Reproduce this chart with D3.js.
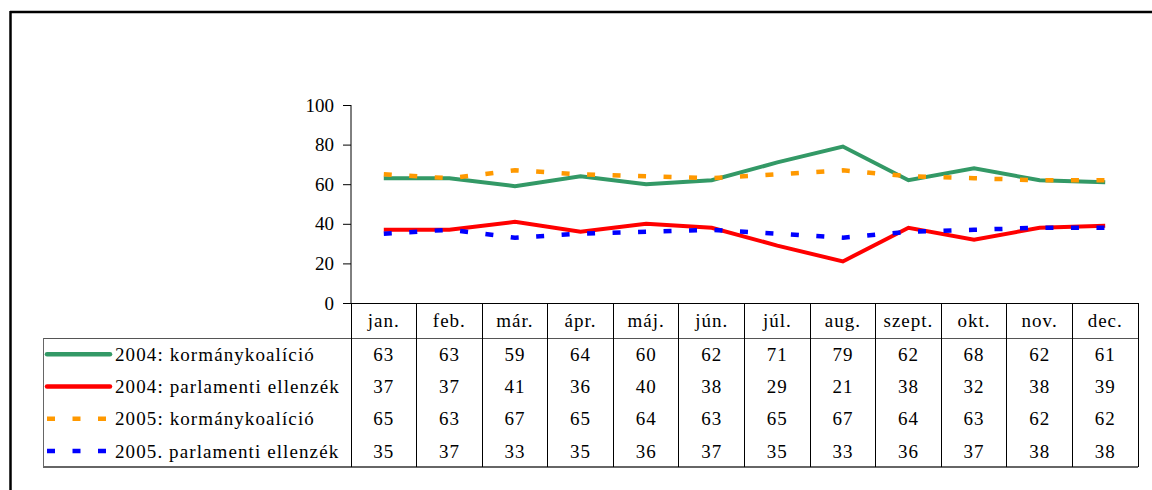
<html>
<script src="https://cdnjs.cloudflare.com/ajax/libs/d3/7.8.5/d3.min.js"></script>
<body style="margin:0; background:#fff">
<svg width="1152" height="490"></svg>
<script>
// data
var months = ["jan.", "feb.", "már.", "ápr.", "máj.", "jún.", "júl.", "aug.", "szept.", "okt.", "nov.", "dec."];
var seriesNames = ["2004: kormánykoalíció", "2004: parlamenti ellenzék", "2005: kormánykoalíció", "2005. parlamenti ellenzék"];
var koal2004 = [63, 63, 59, 64, 60, 62, 71, 79, 62, 68, 62, 61];
var ellenz2004 = [37, 37, 41, 36, 40, 38, 29, 21, 38, 32, 38, 39];
var koal2005 = [65, 63, 67, 65, 64, 63, 65, 67, 64, 63, 62, 62];
var ellenz2005 = [35, 37, 33, 35, 36, 37, 35, 33, 36, 37, 38, 38];
var yTicks = [0, 20, 40, 60, 80, 100];

var seriesValues = [koal2004, ellenz2004, koal2005, ellenz2005];
var colors = ["#339966", "#ff0000", "#ff9900", "#0000ff"];
var dashes = [null, null, "8,17.5", "8,17.5"];

var width = 1152, height = 490;
var plotLeft = 351, plotRight = 1138, plotTop = 105, plotBottom = 303;
var headerH = 35, rowH = 32.25, legendLeft = 43;
var font = "'Liberation Serif', 'Times New Roman', serif";

var svg = d3.select("svg").attr("viewBox", [0, 0, width, height])
	.style("font-family", font);

// outer frame (only top and left edges visible)
svg.append("line").attr("x1", 10).attr("x2", width).attr("y1", 12).attr("y2", 12)
	.attr("stroke", "#000").attr("stroke-width", 2.5);
svg.append("line").attr("x1", 10.5).attr("x2", 10.5).attr("y1", 11).attr("y2", height)
	.attr("stroke", "#000").attr("stroke-width", 2.5);

var x = d3.scaleBand().domain(months).range([plotLeft, plotRight]);
var y = d3.scaleLinear().domain([0, 100]).range([plotBottom, plotTop]);

// y axis
var yAxis = svg.append("g")
	.attr("transform", "translate(" + plotLeft + ",0)")
	.call(d3.axisLeft(y).tickValues(yTicks).tickSize(8).tickPadding(9));
yAxis.select(".domain").remove();
yAxis.selectAll(".tick line").attr("stroke", "#000");
yAxis.selectAll(".tick text")
	.style("font-family", font).style("font-size", "19px").attr("fill", "#000");
svg.append("line").attr("x1", plotLeft).attr("x2", plotLeft).attr("y1", plotTop).attr("y2", plotBottom)
	.attr("stroke", "#000");

// data table grid
var tableBottom = plotBottom + headerH + rowH * 4;
var grid = svg.append("g").attr("stroke", "#000").attr("stroke-width", 1).attr("shape-rendering", "crispEdges");
grid.append("line").attr("x1", plotLeft).attr("x2", plotRight).attr("y1", plotBottom).attr("y2", plotBottom);
grid.append("line").attr("x1", legendLeft).attr("x2", plotRight).attr("y1", plotBottom + headerH).attr("y2", plotBottom + headerH).attr("stroke", "#555");
grid.append("line").attr("x1", legendLeft).attr("x2", plotRight).attr("y1", tableBottom).attr("y2", tableBottom).attr("stroke", "#666").attr("stroke-width", 2);
grid.append("line").attr("x1", legendLeft).attr("x2", legendLeft).attr("y1", plotBottom + headerH).attr("y2", tableBottom).attr("stroke", "#666");
grid.append("line").attr("x1", plotLeft).attr("x2", plotLeft).attr("y1", plotBottom).attr("y2", tableBottom);
grid.selectAll(".col").data(months).enter().append("line")
	.attr("x1", d => x(d) + x.bandwidth()).attr("x2", d => x(d) + x.bandwidth())
	.attr("y1", plotBottom).attr("y2", tableBottom);

// header
svg.selectAll(".month").data(months).enter().append("text")
	.attr("x", d => x(d) + x.bandwidth() / 2)
	.attr("y", plotBottom + headerH / 2)
	.attr("dy", "0.35em")
	.attr("text-anchor", "middle")
	.style("font-size", "19px").style("letter-spacing", "1px")
	.text(d => d);

// lines
var line = d3.line()
	.x((d, i) => x(months[i]) + x.bandwidth() / 2)
	.y(d => y(d));
seriesValues.forEach(function(vals, s) {
	svg.append("path").datum(vals)
		.attr("d", line)
		.attr("fill", "none")
		.attr("stroke", colors[s])
		.attr("stroke-width", s < 2 ? 4 : 4.5)
		.attr("stroke-dasharray", dashes[s]);
});

// table rows with legend keys
seriesValues.forEach(function(vals, s) {
	var cy = plotBottom + headerH + rowH * s + rowH / 2;
	svg.append("line")
		.attr("x1", 47).attr("x2", 110).attr("y1", cy).attr("y2", cy)
		.attr("stroke", colors[s]).attr("stroke-width", 4.5)
		.attr("stroke-linecap", s < 2 ? "round" : "butt")
		.attr("stroke-dasharray", s < 2 ? null : "8,17.5");
	svg.append("text")
		.attr("x", 115).attr("y", cy).attr("dy", "0.35em")
		.style("font-size", "19px").style("letter-spacing", "1.1px")
		.text(seriesNames[s]);
	svg.selectAll(".v" + s).data(vals).enter().append("text")
		.attr("x", (d, i) => x(months[i]) + x.bandwidth() / 2)
		.attr("y", cy).attr("dy", "0.35em")
		.attr("text-anchor", "middle")
		.style("font-size", "19px").style("letter-spacing", "1px")
		.text(d => d);
});
</script>
</body>
</html>
